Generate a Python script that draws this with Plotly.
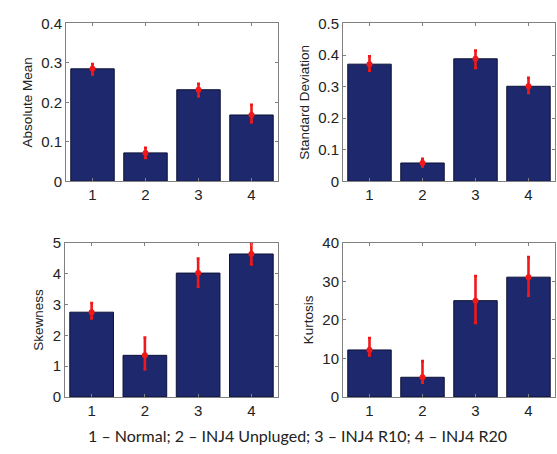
import plotly.graph_objects as go
from plotly.subplots import make_subplots

# Condition index on the x axis
conditions = [1, 2, 3, 4]

# Feature means per condition
abs_mean = [0.285, 0.072, 0.232, 0.168]
std_dev = [0.371, 0.058, 0.388, 0.301]
skewness = [2.75, 1.35, 4.02, 4.64]
kurtosis = [12.2, 5.1, 25.0, 31.1]

# Error bar extents (upper / lower)
abs_mean_err_up = [0.012, 0.013, 0.015, 0.026]
abs_mean_err_dn = [0.014, 0.013, 0.017, 0.018]
std_dev_err_up = [0.025, 0.013, 0.026, 0.027]
std_dev_err_dn = [0.021, 0.011, 0.029, 0.021]
skew_err_up = [0.30, 0.58, 0.47, 0.36]
skew_err_dn = [0.20, 0.45, 0.44, 0.34]
kurt_err_up = [3.1, 4.2, 6.4, 5.2]
kurt_err_dn = [1.4, 1.4, 5.8, 4.8]

y_titles = ["Absolute Mean", "Standard Deviation", "Skewness", "Kurtosis"]
y_ranges = [[0, 0.4], [0, 0.5], [0, 5], [0, 40]]
y_dticks = [0.1, 0.1, 1, 10]
caption = "1 \u2013 Normal; 2 \u2013 INJ4 Unpluged; 3 \u2013 INJ4 R10; 4 \u2013 INJ4 R20"

panels = [
    (abs_mean, abs_mean_err_up, abs_mean_err_dn),
    (std_dev, std_dev_err_up, std_dev_err_dn),
    (skewness, skew_err_up, skew_err_dn),
    (kurtosis, kurt_err_up, kurt_err_dn),
]

W, H = 557, 454
fig = make_subplots(rows=2, cols=2)

bar_color = "#1e286c"
edge_color = "#0d1236"
err_color = "#f01818"
frame_color = "#808080"
sans = "Arial, 'Liberation Sans', sans-serif"

# Plot-area boxes in pixels: (left, right, top, bottom)
boxes = [(66, 278, 15, 179), (343, 555, 15, 179),
         (65, 278, 243, 403), (343, 555, 243, 403)]

for i, (vals, up, dn) in enumerate(panels):
    r, c = i // 2 + 1, i % 2 + 1
    fig.add_trace(go.Bar(
        x=conditions, y=vals, width=0.82,
        marker=dict(color=bar_color, line=dict(color=edge_color, width=1)),
        showlegend=False,
    ), row=r, col=c)
    fig.add_trace(go.Scatter(
        x=conditions, y=vals, mode="markers",
        marker=dict(color=err_color, size=6),
        error_y=dict(type="data", symmetric=False, array=up, arrayminus=dn,
                     color=err_color, thickness=2.6, width=1.5),
        showlegend=False, cliponaxis=False,
    ), row=r, col=c)

    left, right, top, bottom = boxes[i]
    xa = "xaxis" if i == 0 else f"xaxis{i+1}"
    ya = "yaxis" if i == 0 else f"yaxis{i+1}"
    fig.layout[xa].update(
        domain=[left / W, right / W], range=[0.5, 4.5],
        tickvals=conditions, ticks="inside", ticklen=3, tickcolor=frame_color,
        showline=True, linecolor=frame_color, linewidth=1, mirror="ticks",
        showgrid=False, zeroline=False,
        tickfont=dict(family=sans, size=15, color="#222222"),
    )
    fig.layout[ya].update(
        domain=[1 - bottom / H, 1 - top / H], range=y_ranges[i],
        dtick=y_dticks[i], ticks="inside", ticklen=3, tickcolor=frame_color,
        showline=True, linecolor=frame_color, linewidth=1, mirror="ticks",
        showgrid=False, zeroline=False,
        tickfont=dict(family=sans, size=15, color="#222222"),
        title=dict(text=y_titles[i], standoff=5,
                   font=dict(family=sans, size=13.5, color="#222222")),
    )

fig.add_annotation(
    text=caption, xref="paper", yref="paper", x=297 / W, y=1 - 443 / H,
    showarrow=False, xanchor="center", yanchor="middle",
    font=dict(family="Lato", size=16, color="#222222"),
)

fig.update_layout(
    width=W, height=H, margin=dict(l=0, r=0, t=0, b=0),
    paper_bgcolor="white", plot_bgcolor="white", bargap=0.18,
)

fig.write_html("out.html")
